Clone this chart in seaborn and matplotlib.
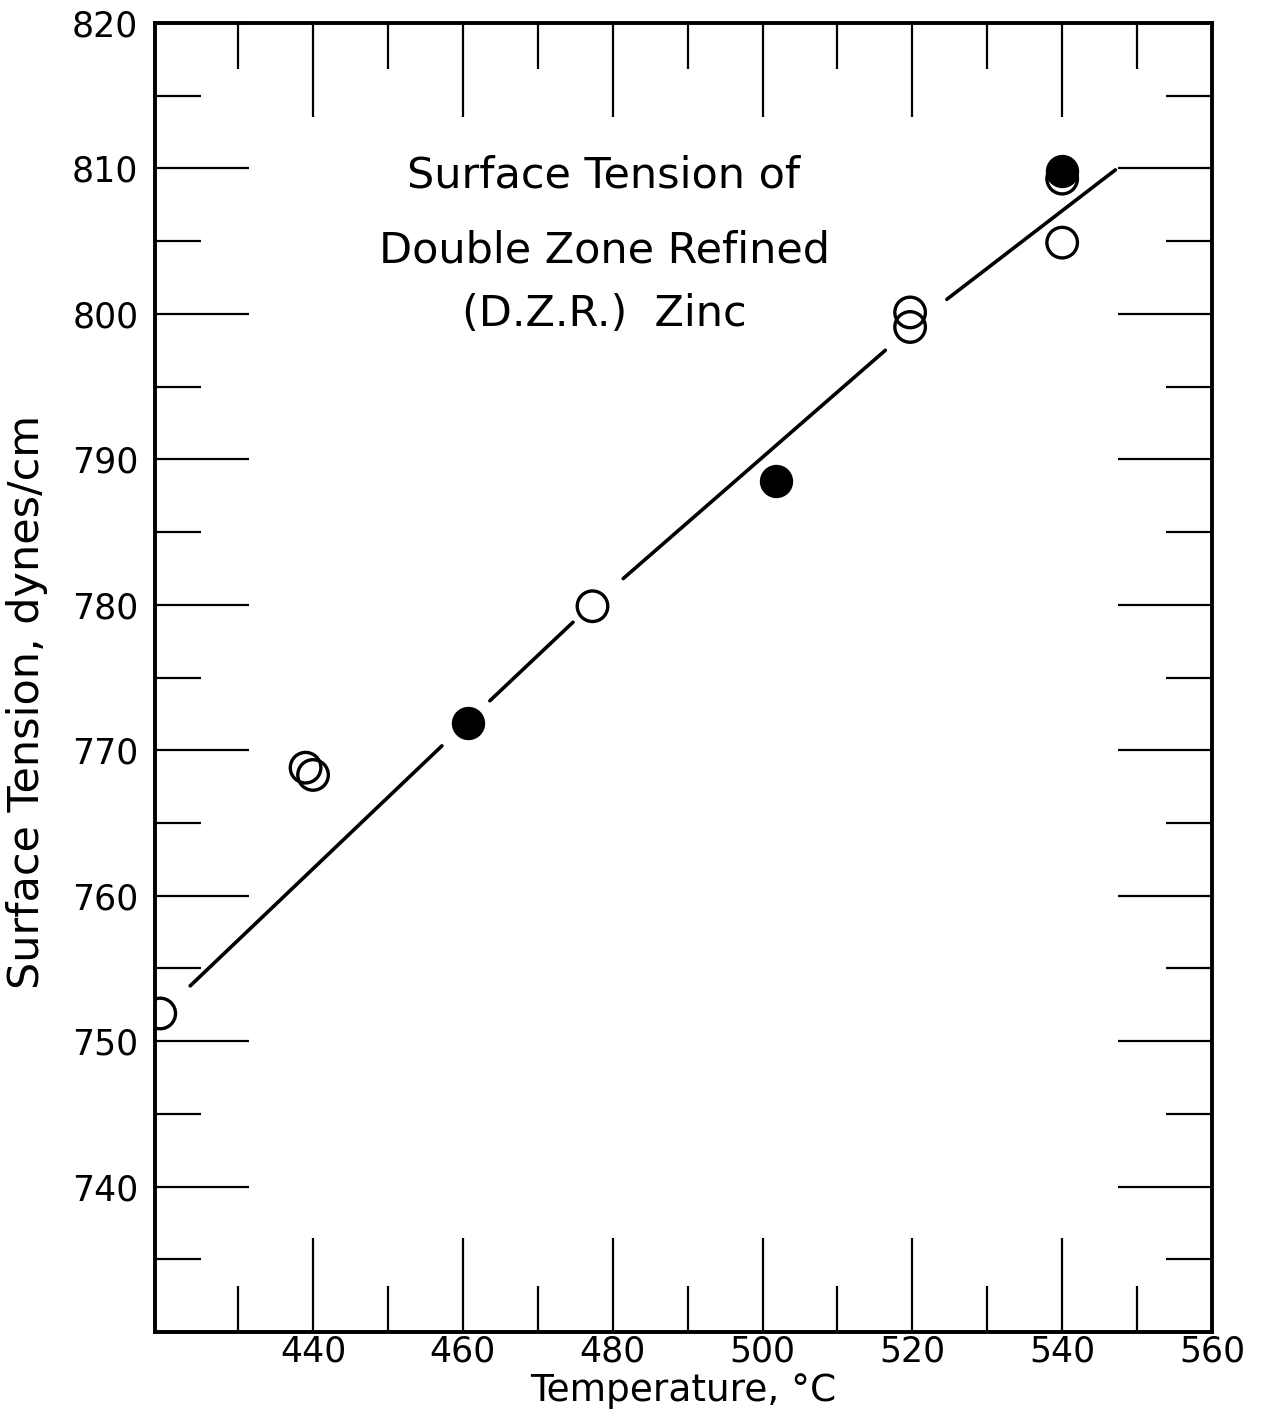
import numpy as np
import pandas as pd
import matplotlib
matplotlib.use("Agg")
import matplotlib.pyplot as plt
import seaborn as sns
from matplotlib.ticker import FixedLocator

# ---- data ----
open_temp = [419.6, 439.0, 440.0, 477.3, 519.7, 519.7, 540.0, 540.0]
open_tension = [751.9, 768.8, 768.3, 779.9, 800.1, 799.1, 809.3, 804.9]
filled_temp = [460.7, 501.8, 540.0]
filled_tension = [771.9, 788.5, 809.8]

# fitted line, drawn as broken segments (start/end of each piece)
line_seg = [1, 1, 2, 2, 3, 3, 4, 4]
line_temp = [423.6, 457.2, 463.6, 474.7, 481.4, 516.4, 524.6, 547.1]
line_tension = [753.8, 770.3, 773.4, 778.8, 781.8, 797.5, 801.0, 809.9]

x_major = [440, 460, 480, 500, 520, 540, 560]
x_minor = [430, 450, 470, 490, 510, 530, 550]
y_major = [740, 750, 760, 770, 780, 790, 800, 810, 820]
y_minor = [735, 745, 755, 765, 775, 785, 795, 805, 815]

title_lines = ["Surface Tension of", "Double Zone Refined", "(D.Z.R.)  Zinc"]
x_label = "Temperature, \u00b0C"
y_label = "Surface Tension, dynes/cm"

# ---- plotting ----
sns.set_theme(style="ticks")
plt.rcParams["font.family"] = ["DejaVu Sans"]

fig = plt.figure(figsize=(12.73, 14.18), dpi=100)
ax = fig.add_axes([155 / 1273, 1 - 1332 / 1418, 1057 / 1273, 1309 / 1418])

line_df = pd.DataFrame({"seg": line_seg, "T": line_temp, "S": line_tension})
sns.lineplot(data=line_df, x="T", y="S", units="seg", estimator=None,
             color="black", linewidth=2.6, ax=ax, legend=False, sort=False)

open_df = pd.DataFrame({"T": open_temp, "S": open_tension})
filled_df = pd.DataFrame({"T": filled_temp, "S": filled_tension})
sns.scatterplot(data=open_df, x="T", y="S", marker="o", s=22 ** 2,
                facecolors="none", edgecolor="black", linewidth=2.4,
                ax=ax, zorder=3)
sns.scatterplot(data=filled_df, x="T", y="S", marker="o", s=22 ** 2,
                color="black", edgecolor="black", linewidth=2.0,
                ax=ax, zorder=4)

ax.set_xlim(418.9, 560)
ax.set_ylim(730, 820)

ax.xaxis.set_major_locator(FixedLocator(x_major))
ax.xaxis.set_minor_locator(FixedLocator(x_minor))
ax.yaxis.set_major_locator(FixedLocator(y_major))
ax.yaxis.set_minor_locator(FixedLocator(y_minor))
ax.set_xticklabels([str(v) for v in x_major])
ax.set_yticklabels([str(v) for v in y_major])

ax.tick_params(which="both", direction="in", top=True, right=True,
               color="black", labelcolor="black")
ax.tick_params(which="major", length=68, width=1.6)
ax.tick_params(which="minor", length=33, width=1.6)
ax.tick_params(axis="x", which="major", labelsize=25, pad=2)
ax.tick_params(axis="y", which="major", labelsize=25, pad=12)

for side in ["left", "right", "top", "bottom"]:
    ax.spines[side].set_visible(True)
    ax.spines[side].set_color("black")
    ax.spines[side].set_linewidth(2.8)

ax.set_xlabel(x_label, fontsize=27, color="black")
ax.set_ylabel(y_label, fontsize=31, color="black")
ax.xaxis.set_label_coords(0.5, -0.0315)
ax.yaxis.set_label_coords(-0.101, 0.481)

title_y = [0.8747, 0.8174, 0.7685]
for txt, yy in zip(title_lines, title_y):
    ax.text(0.4248, yy, txt, transform=ax.transAxes, ha="center",
            va="baseline", fontsize=31, color="black")

ax.set_facecolor("white")
fig.patch.set_facecolor("white")
fig.savefig("out.png", dpi=100, facecolor="white")
